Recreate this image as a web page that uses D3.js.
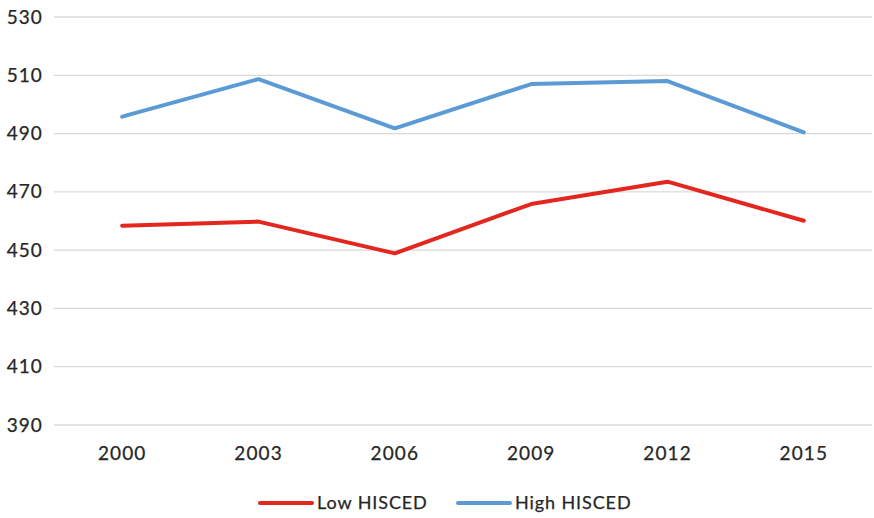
<!DOCTYPE html>
<html>
<head>
<meta charset="utf-8">
<script src="https://cdn.jsdelivr.net/npm/d3@7/dist/d3.min.js"></script>
<style>
  html, body { margin: 0; padding: 0; background: #fff; }
  svg { display: block; }
  text { font-family: Lato, "Open Sans", sans-serif; fill: #262626; }
</style>
</head>
<body>
<svg id="chart" width="874" height="518"></svg>
<script>
// Survey years and mean scores by parental education level
const years = ["2000", "2003", "2006", "2009", "2012", "2015"];
const lowHisced = [458.4, 459.8, 448.9, 465.8, 473.5, 460.1];
const highHisced = [495.8, 508.7, 491.8, 507.0, 508.0, 490.4];
const yTicks = [390, 410, 430, 450, 470, 490, 510, 530];
const seriesNames = ["Low HISCED", "High HISCED"];
const seriesColors = ["#e3261e", "#5b9bd5"];

const svg = d3.select("#chart");
const margin = { left: 54, right: 2, top: 17, bottom: 93 };
const W = 874, H = 518;

const x = d3.scaleBand().domain(years).range([margin.left, W - margin.right]);
const y = d3.scaleLinear().domain([390, 530]).range([H - margin.bottom, margin.top]);

// Horizontal gridlines
svg.append("g")
  .selectAll("line")
  .data(yTicks)
  .join("line")
  .attr("x1", margin.left)
  .attr("x2", W - margin.right)
  .attr("y1", d => y(d))
  .attr("y2", d => y(d))
  .attr("stroke", "#d9d9d9")
  .attr("stroke-width", 1.3);

function styleLabels(sel, size) {
  sel.attr("font-size", size)
    .style("font-family", "Lato, 'Open Sans', sans-serif")
    .style("letter-spacing", "1.1px")
    .attr("fill", "#262626")
    .attr("stroke", "#262626")
    .attr("stroke-width", 0.25);
}

// Y axis labels
const yAxis = d3.axisLeft(y).tickValues(yTicks).tickSize(0).tickPadding(11);
const gy = svg.append("g").attr("transform", `translate(${margin.left},0)`).call(yAxis);
gy.select(".domain").remove();
styleLabels(gy.selectAll("text"), 19);

// X axis labels
const xAxis = d3.axisBottom(x).tickSize(0).tickPadding(22);
const gx = svg.append("g").attr("transform", `translate(0,${H - margin.bottom})`).call(xAxis);
gx.select(".domain").remove();
styleLabels(gx.selectAll("text"), 19);

// Series lines
const line = d3.line()
  .x((d, i) => x(years[i]) + x.bandwidth() / 2)
  .y(d => y(d));

[lowHisced, highHisced].forEach((vals, k) => {
  svg.append("path")
    .datum(vals)
    .attr("d", line)
    .attr("fill", "none")
    .attr("stroke", seriesColors[k])
    .attr("stroke-width", 4)
    .attr("stroke-linejoin", "round")
    .attr("stroke-linecap", "round");
});

// Legend
const legendX = [260, 458];
const legendY = 503;
seriesNames.forEach((name, k) => {
  const g = svg.append("g").attr("transform", `translate(${legendX[k]},${legendY})`);
  g.append("line")
    .attr("x1", 0).attr("x2", 52)
    .attr("y1", 0).attr("y2", 0)
    .attr("stroke", seriesColors[k])
    .attr("stroke-width", 4)
    .attr("stroke-linecap", "round");
  const t = g.append("text")
    .attr("x", 57)
    .attr("y", 0)
    .attr("dy", "0.35em")
    .text(name);
  styleLabels(t, 18);
  t.style("letter-spacing", "0.9px");
});
</script>
</body>
</html>
